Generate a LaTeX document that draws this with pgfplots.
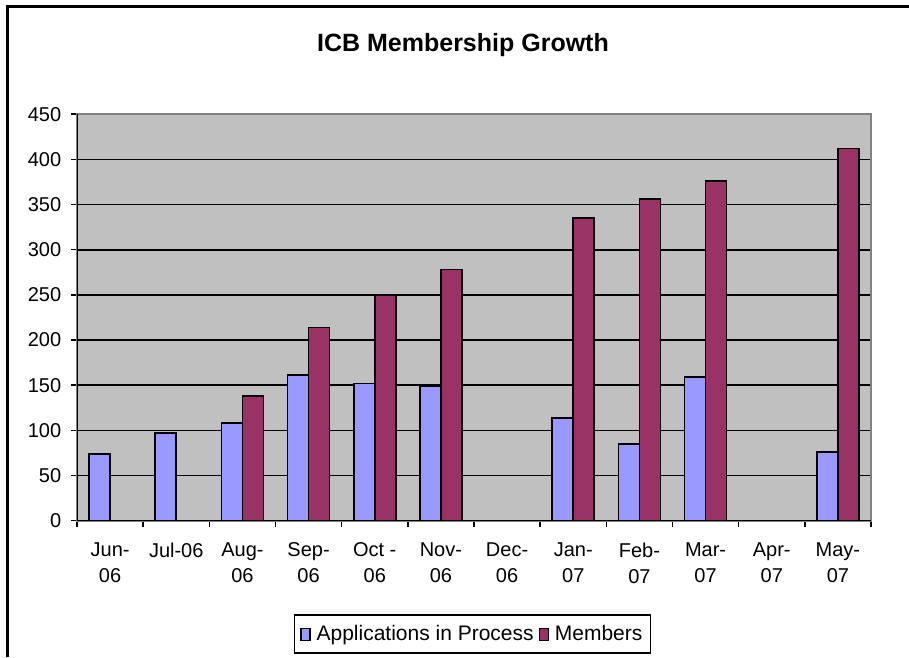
\documentclass[border=0pt]{standalone}
\usepackage{fontspec}
\setmainfont{Liberation Sans}
\usepackage{pgfplots}
\pgfplotsset{compat=1.18}
\definecolor{appblue}{HTML}{9999FF}
\definecolor{memred}{HTML}{993366}
\definecolor{plotgray}{HTML}{C0C0C0}
\definecolor{framegray}{HTML}{808080}
\begin{document}
\fontsize{20pt}{25pt}\selectfont
\begin{tikzpicture}
\useasboundingbox (0,0) rectangle (909pt,-657pt);
\fill[white] (0,0) rectangle (909pt,-657pt);
\draw[line width=2.5pt] (7.5pt,-657pt) -- (7.5pt,-6.5pt) -- (909pt,-6.5pt);
\node[font=\fontsize{25pt}{30pt}\selectfont\bfseries] at (463pt,-45pt) {ICB Membership Growth};
\begin{axis}[
  scale only axis, width=794pt, height=406.5pt,
  at={(77pt,-520.7pt)}, anchor=south west,
  xmin=-0.5, xmax=11.5, ymin=0, ymax=450,
  ytick={0,50,...,450},
  xtick={0,...,11},
  xticklabels={{Jun-\\06},{Jul-06},{Aug-\\06},{Sep-\\06},{Oct -\\06},{Nov-\\06},{Dec-\\06},{Jan-\\07},{Feb-\\07},{Mar-\\07},{Apr-\\07},{May-\\07}},
  minor xtick={-0.5,0.5,...,11.5},
  tick pos=left,
  tick label style={font=\fontsize{20pt}{26pt}\selectfont},
  xticklabel style={align=center, yshift=-9pt},
  yticklabel style={xshift=-3pt},
  /pgf/number format/assume math mode=true,
  tick align=outside,
  major tick length=6pt, minor tick length=6pt,
  major x tick style={draw=none},
  tick style={black, line width=1.5pt},
  ymajorgrids,
  major grid style={black, line width=1.6pt},
  axis line style={framegray, line width=2pt},
  axis background/.style={fill=plotgray},
  ybar=0pt, bar width=21pt,
  legend columns=2,
  legend style={at={(0.498,-0.279)}, anchor=center, draw=black, line width=1.5pt,
    font=\fontsize{21pt}{25pt}\selectfont, inner xsep=6pt, inner ysep=8pt,
    /tikz/every odd column/.append style={column sep=4pt},
    /tikz/every even column/.append style={column sep=3pt}},
  legend image code/.code={\draw[#1, line width=1.2pt] (0pt,-6pt) rectangle (9pt,6pt);},
]
\addplot[fill=appblue, draw=black, line width=1.8pt] coordinates {
  (0,74) (1,97) (2,108) (3,161) (4,152) (5,149) (7,114) (8,85) (9,159) (11,76)};
\addplot[fill=memred, draw=black, line width=1.8pt] coordinates {
  (2,138) (3,214) (4,250) (5,278) (7,335) (8,356) (9,376) (11,412)};
\legend{Applications in Process, Members}
\draw[black, line width=2pt] (rel axis cs:0,1) -- (rel axis cs:0,0) -- (rel axis cs:1,0);
\end{axis}
\end{tikzpicture}
\end{document}
